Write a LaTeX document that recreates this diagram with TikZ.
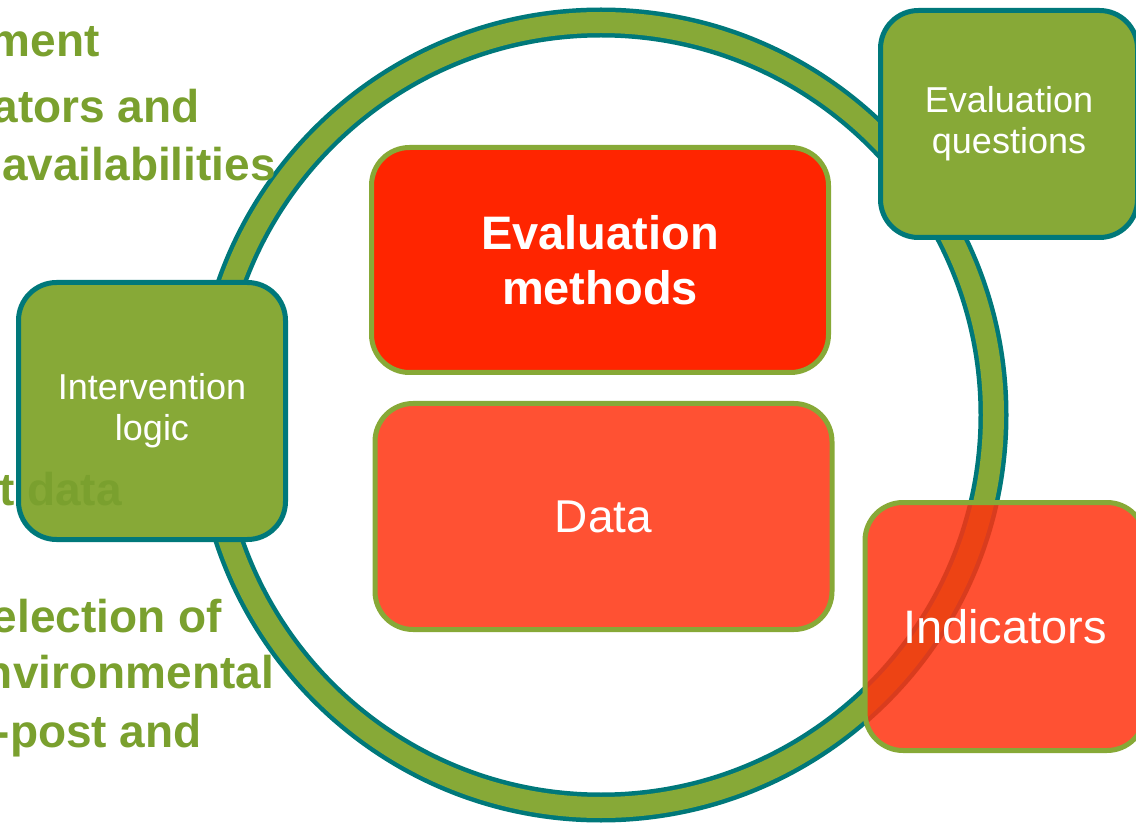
\documentclass[tikz,border=0pt]{standalone}
\usepackage{fontspec}
\setmainfont{Liberation Sans}
\usepackage{xcolor}
\usepackage{tikz}
\usetikzlibrary{positioning}

\definecolor{leaf}{HTML}{87A937}
\definecolor{leafdark}{HTML}{7AA02E}
\definecolor{teal}{HTML}{00787A}
\definecolor{signal}{HTML}{FF2500}
\definecolor{coral}{HTML}{FF5133}
\definecolor{coralglass}{HTML}{FF320F}

\begin{document}
\begin{tikzpicture}[
    x=1pt, y=-1pt,
    box/.style={rectangle, rounded corners=38pt, line width=5pt, align=center, inner sep=0pt, text=white},
    redbox/.style={box, draw=leaf, fill=coral},
    greenbox/.style={box, draw=teal, fill=leaf, font=\fontsize{36}{41}\selectfont},
    note/.style={anchor=base east, text=leafdark, font=\bfseries\fontsize{46}{46}\selectfont, inner sep=0pt}
  ]
    \useasboundingbox (0,0) rectangle (1136,826);
    \clip (0,0) rectangle (1136,826);

    % the cycle ring
    \coordinate (hub) at (601,415);
    \draw[teal, line width=30pt] (hub) circle[radius=392.5pt];
    \draw[leaf, line width=21pt] (hub) circle[radius=392.5pt];

    \node[redbox, fill=signal, minimum width=457pt, minimum height=225pt,
          font=\bfseries\fontsize{47}{55}\selectfont] (methods) at (600,260) {Evaluation\\methods};
    \node[redbox, minimum width=457pt, minimum height=226pt,
          font=\fontsize{46}{52}\selectfont] (data) at (603.5,516.5) {Data};

    \node[greenbox, minimum width=257pt, minimum height=227pt] (questions) at (1009,124) {Evaluation\\questions};
    \node[greenbox, minimum width=267pt, minimum height=257pt] (logic) at (152,411) {Intervention\\logic};
    % see-through, the ring shows under it
    \node[redbox, fill=coralglass, fill opacity=0.85, text opacity=1, minimum width=280pt, minimum height=248pt,
          font=\fontsize{47}{52}\selectfont] (indicators) at (1005,626.5) {Indicators};

    % text left behind from the slide underneath
    \node[note] (n1) at (100,57) {ment};
    \node[note] (n2) at (200,123) {ators and};
    \node[note] (n3) at (276,181) {availabilities};
    \node[note] (n4) at (122,505) {t data};
    \node[note] (n5) at (222,632) {election of};
    \node[note] (n6) at (274,688) {nvironmental};
    \node[note] (n7) at (202,747) {-post and};
  \end{tikzpicture}
\end{document}
